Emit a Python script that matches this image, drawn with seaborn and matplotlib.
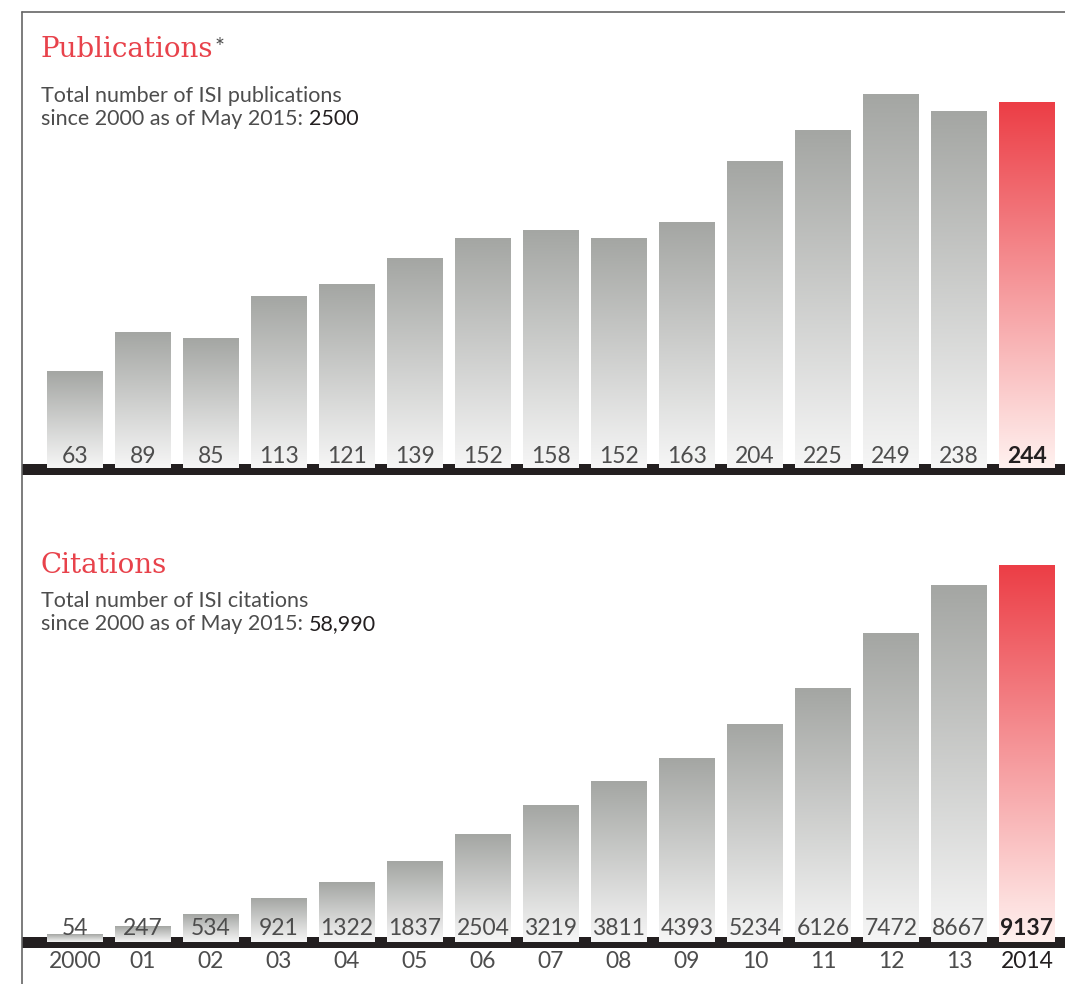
import numpy as np
import pandas as pd
import seaborn as sns
import matplotlib.pyplot as plt
from matplotlib.colors import LinearSegmentedColormap
from matplotlib.lines import Line2D

years = ['2000', '01', '02', '03', '04', '05', '06', '07', '08', '09',
         '10', '11', '12', '13', '2014']
publications = [63, 89, 85, 113, 121, 139, 152, 158, 152, 163, 204, 225, 249, 238, 244]
citations = [54, 247, 534, 921, 1322, 1837, 2504, 3219, 3811, 4393, 5234, 6126, 7472, 8667, 9137]

RED = '#e8424b'
TXT = '#4d4d4d'
DARK = '#231f20'
gray_cmap = LinearSegmentedColormap.from_list('g', ['#f6f6f6', '#a4a6a3'])
red_cmap = LinearSegmentedColormap.from_list('r', ['#fff1ef', '#ec3e46'])

W, H = 1065, 984
sns.set_theme(style='white')
plt.rcParams['font.family'] = ['Lato', 'DejaVu Sans']

fig = plt.figure(figsize=(W / 100, H / 100), dpi=100)
PT = 0.72  # points per pixel at dpi 100


def draw_panel(top, bottom, values, s, zero_px, band_px, foot_px, lab_px):
    # s: pixels per unit, zero_px: pixel row of value 0
    ax = fig.add_axes([22 / W, 1 - bottom / H, (W - 22) / W, (bottom - top) / H])
    df = pd.DataFrame({'year': years, 'value': values})
    sns.barplot(data=df, x='year', y='value', ax=ax, color='white',
                width=0.82, saturation=1, errorbar=None)
    grad = np.linspace(1, 0, 256)[:, None]
    foot = -foot_px / s
    for i, p in enumerate(ax.patches):
        x0, w, h = p.get_x(), p.get_width(), p.get_height()
        p.set_visible(False)
        cmap = red_cmap if i == len(values) - 1 else gray_cmap
        ax.imshow(grad, extent=[x0, x0 + w, foot, h], aspect='auto', cmap=cmap,
                  interpolation='bilinear', zorder=2)
    ax.axhline(-band_px / s, color=DARK, lw=11 * PT, zorder=1)
    for i, v in enumerate(values):
        last = i == len(values) - 1
        ax.annotate(str(v), xy=(i, 0), xytext=(0, lab_px * PT), textcoords='offset points',
                    ha='center', va='baseline', fontsize=16.5, zorder=3,
                    color=DARK if last else TXT,
                    fontweight='bold' if last else 'normal')
    ax.set_xlim(-0.78, 14.56)
    ax.set_ylim(-(bottom - zero_px) / s, (zero_px - top) / s)
    ax.axis('off')
    return ax


ax1 = draw_panel(12, 480, publications, 1.484, 464.5, 4.0, 3.5, 1.5)
ax2 = draw_panel(480, 984, citations, 0.04053, 936.3, 5.7, 5.7, 1.3)
for i, y in enumerate(years):
    last = i == len(years) - 1
    ax2.annotate(y, xy=(i, 0), xytext=(0, -31.7 * PT), textcoords='offset points',
                 ha='center', va='baseline', fontsize=16.5,
                 color=DARK if last else TXT)

# frame lines
fig.add_artist(Line2D([22 / W, 22 / W], [0, 1 - 12 / H], transform=fig.transFigure,
                      color='#666666', lw=1.2))
fig.add_artist(Line2D([22 / W, 1], [1 - 12 / H, 1 - 12 / H], transform=fig.transFigure,
                      color='#666666', lw=1.2))


def header(title, star, line1, line2, total, y_title, y1, y2):
    t = fig.text(41 / W, 1 - y_title / H, title, color=RED, fontsize=20,
                 family=['DejaVu Serif'], va='baseline')
    if star:
        plt.annotate('*', xy=(1, 1), xycoords=t, xytext=(0.5, -1), textcoords='offset points',
                     ha='left', va='top', fontsize=17, color=TXT,
                     annotation_clip=False)
    fig.text(41 / W, 1 - y1 / H, line1, color=TXT, fontsize=15.5, va='baseline')
    s = fig.text(41 / W, 1 - y2 / H, line2, color=TXT, fontsize=15.5, va='baseline')
    plt.annotate(total, xy=(1, 0), xycoords=s, ha='left', va='bottom', fontsize=15.5,
                 color=DARK, annotation_clip=False)


header('Publications', True, 'Total number of ISI publications',
       'since 2000 as of May 2015: ', '2500', 57, 102, 125)
header('Citations', False, 'Total number of ISI citations',
       'since 2000 as of May 2015: ', '58,990', 573, 607, 630)

fig.savefig('out.png', dpi=100, facecolor='white')
